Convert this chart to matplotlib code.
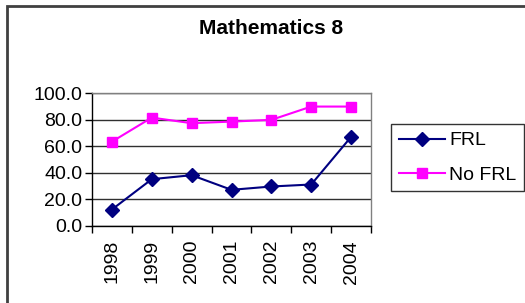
import matplotlib
matplotlib.use("Agg")
import matplotlib.pyplot as plt
import matplotlib.patches as mpatches

plt.rcParams.update({
    "font.family": ["Liberation Sans", "DejaVu Sans"],
    "font.size": 14,
})

years = ["1998", "1999", "2000", "2001", "2002", "2003", "2004"]
frl = [12.4, 35.2, 38.2, 27.2, 29.7, 31.2, 67.0]
no_frl = [63.4, 81.5, 77.3, 78.5, 79.8, 89.8, 89.8]

fig = plt.figure(figsize=(5.25, 3.03), dpi=100)

# outer chart frame (only top and left edges are visible)
frame = mpatches.Rectangle((7 / 525, -0.2), 1.2, 1.2 - 6 / 303,
                           transform=fig.transFigure, fill=False,
                           edgecolor="#404040", linewidth=2)
fig.patches.append(frame)

ax = fig.add_axes([92 / 525, 1 - 226 / 303, (371 - 92) / 525, (226 - 93) / 303])

x = list(range(len(years)))
ax.plot(x, frl, color="#000080", marker="D", markersize=7, linewidth=1.5,
        label="FRL")
ax.plot(x, no_frl, color="#FF00FF", marker="s", markersize=7, linewidth=1.5,
        label="No FRL")

ax.set_xlim(-0.5, len(years) - 0.5)
ax.set_ylim(0, 100)
ax.set_yticks([0, 20, 40, 60, 80, 100])
ax.set_yticklabels([f"{v:.1f}" for v in [0, 20, 40, 60, 80, 100]])
ax.set_xticks(x)
ax.set_xticklabels(years, rotation=90)
ax.set_xticks([i - 0.5 for i in range(len(years) + 1)], minor=True)
ax.tick_params(axis="x", which="major", length=0, pad=10)
ax.tick_params(axis="x", which="minor", length=5, width=1, color="black")
ax.tick_params(axis="y", length=5, width=1, pad=2)
ax.yaxis.grid(True, color="#303030", linewidth=1)
ax.set_axisbelow(True)

for side in ["top", "right"]:
    ax.spines[side].set_color("#808080")
    ax.spines[side].set_linewidth(1)
for side in ["left", "bottom"]:
    ax.spines[side].set_color("black")
    ax.spines[side].set_linewidth(1)

fig.text(271 / 525, 1 - 29 / 303, "Mathematics 8", ha="center", va="center",
         fontsize=15, fontweight="bold")

leg = fig.legend(loc="upper left", bbox_to_anchor=(391 / 525, 1 - 124 / 303),
                 frameon=True, fancybox=False, edgecolor="black",
                 handlelength=2.4, borderpad=0.4, labelspacing=0.85,
                 handletextpad=0.2, fontsize=14, borderaxespad=0)
leg.get_frame().set_linewidth(1)

fig.savefig("out.png", dpi=100)
